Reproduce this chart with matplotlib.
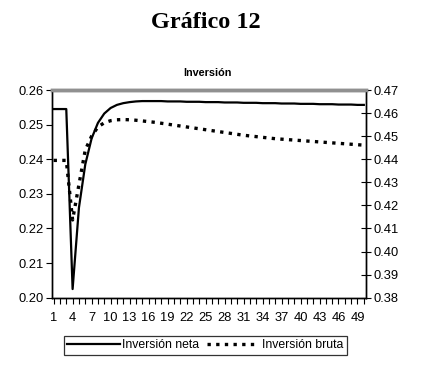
import numpy as np
import matplotlib
matplotlib.use('Agg')
from matplotlib import pyplot as plt

periodos = np.arange(1, 51)

inv_neta = [0.2545, 0.2545, 0.2545, 0.2025, 0.2260, 0.2385, 0.2460, 0.2505, 0.2532, 0.2548,
            0.2557, 0.2562, 0.2565, 0.2567, 0.2568, 0.2568, 0.2568, 0.2568, 0.2567, 0.2567,
            0.2567, 0.2566, 0.2566, 0.2566, 0.2565, 0.2565, 0.2565, 0.2564, 0.2564, 0.2564,
            0.2563, 0.2563, 0.2563, 0.2562, 0.2562, 0.2562, 0.2561, 0.2561, 0.2561, 0.2560,
            0.2560, 0.2560, 0.2559, 0.2559, 0.2559, 0.2558, 0.2558, 0.2558, 0.2557, 0.2557]

inv_bruta = [0.4395, 0.4395, 0.4395, 0.4137, 0.4290, 0.4440, 0.4500, 0.4540, 0.4558, 0.4567,
             0.4571, 0.4572, 0.4571, 0.4569, 0.4566, 0.4563, 0.4560, 0.4556, 0.4552, 0.4548,
             0.4544, 0.4540, 0.4536, 0.4532, 0.4528, 0.4524, 0.4520, 0.4516, 0.4512, 0.4508,
             0.4504, 0.4501, 0.4498, 0.4495, 0.4492, 0.4489, 0.4487, 0.4485, 0.4483, 0.4481,
             0.4479, 0.4477, 0.4475, 0.4473, 0.4471, 0.4469, 0.4467, 0.4465, 0.4463, 0.4461]

ticks_izq = np.arange(0.20, 0.2601, 0.01)
ticks_der = np.arange(0.38, 0.4701, 0.01)

plt.rcParams['font.family'] = ['Liberation Sans', 'DejaVu Sans']

fig = plt.figure(figsize=(4.26, 3.91), dpi=100)
ax = fig.add_axes([0.1214, 0.2386, 0.7371, 0.5312])
ax2 = ax.twinx()

l1, = ax.plot(periodos, inv_neta, color='black', lw=1.6)
l2, = ax2.plot(periodos, inv_bruta, color='black', lw=2.4,
               linestyle=(0, (1.0, 1.6)), dash_capstyle='butt')

ax.set_xlim(0.7, 50.3)
ax.set_ylim(0.20, 0.26)
ax2.set_ylim(0.38, 0.47)
ax.set_yticks(ticks_izq)
ax.set_yticklabels(['%.2f' % t for t in ticks_izq])
ax2.set_yticks(ticks_der)
ax2.set_yticklabels(['%.2f' % t for t in ticks_der])

ax.set_xticks(periodos, minor=True)
ax.set_xticks(periodos[::3])
ax.set_xticklabels([str(p) for p in periodos[::3]])
ax.tick_params(axis='x', which='both', direction='out', length=4, width=0.8, labelsize=9.3, pad=6)
ax.tick_params(axis='y', direction='out', length=4, width=0.8, labelsize=9.3, pad=2)
ax2.tick_params(axis='y', direction='inout', length=7, width=0.8, labelsize=9.3, pad=2)

for a in (ax, ax2):
    a.spines['top'].set_color('#909090')
    a.spines['top'].set_linewidth(2.5)
    a.spines['left'].set_linewidth(1.0)
    a.spines['right'].set_linewidth(1.0)
    a.spines['bottom'].set_linewidth(1.0)

fig.text(0.483, 0.943, 'Gráfico 12', ha='center', va='center', fontsize=17.5,
         fontweight='bold', family=['Liberation Serif', 'DejaVu Serif'])
fig.text(0.486, 0.813, 'Inversión', ha='center', va='center', fontsize=7.8, fontweight='bold')

leg = fig.legend([l1, l2], ['Inversión neta', 'Inversión bruta'], loc='center',
                 bbox_to_anchor=(0.482, 0.117), ncol=2, fontsize=8.8, frameon=True,
                 fancybox=False, edgecolor='black', handlelength=4.3, handletextpad=0.2,
                 columnspacing=0.6, borderpad=0.3)
leg.get_frame().set_linewidth(0.9)

fig.savefig('out.png', dpi=100)
